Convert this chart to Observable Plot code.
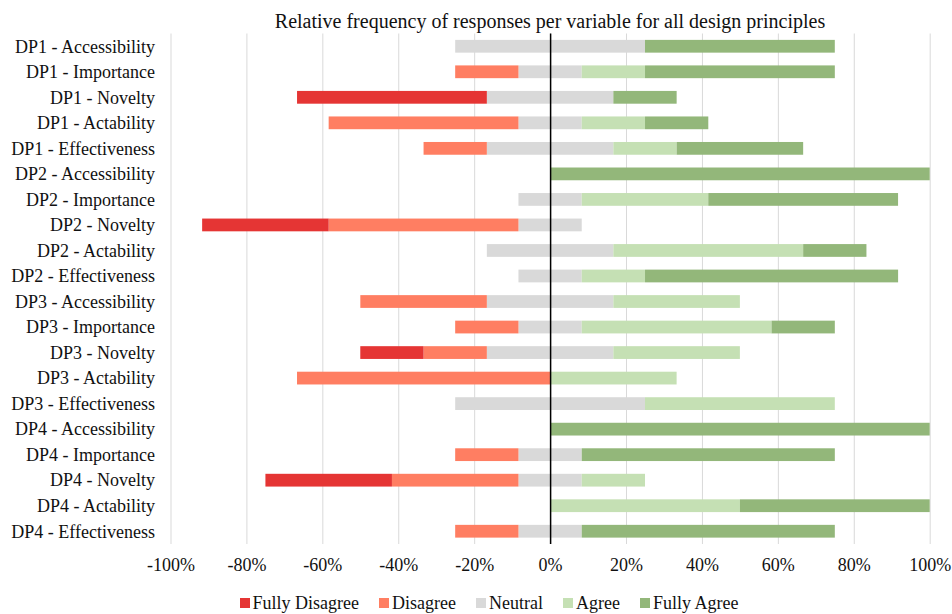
<!DOCTYPE html>
<html>
<head>
<meta charset="utf-8">
<script src="https://cdn.jsdelivr.net/npm/d3@7"></script>
<script src="https://cdn.jsdelivr.net/npm/@observablehq/plot@0.6"></script>
<style>
  html, body { margin: 0; padding: 0; background: #fff; }
  body { width: 952px; height: 614px; overflow: hidden; font-family: "Liberation Serif", "Times New Roman", serif; color: #111; }
  #title { height: 33px; box-sizing: border-box; padding-top: 10px; font-size: 20px; line-height: 22px; white-space: nowrap; position: relative; }
  #title span { position: absolute; left: 550px; transform: translateX(-50%); }
  #chart svg { display: block; }
  #legend { display: flex; justify-content: center; align-items: center; padding-left: 26px; margin-top: 10px; font-size: 18px; line-height: 20px; }
  .item { display: flex; align-items: center; margin: 0 10px; }
  .sw { width: 10px; height: 10px; margin-right: 3px; }
</style>
</head>
<body>
<div id="title"><span>Relative frequency of responses per variable for all design principles</span></div>
<div id="chart"></div>
<div id="legend"></div>
<script>
const categories = [
  "DP1 - Accessibility", "DP1 - Importance", "DP1 - Novelty", "DP1 - Actability", "DP1 - Effectiveness",
  "DP2 - Accessibility", "DP2 - Importance", "DP2 - Novelty", "DP2 - Actability", "DP2 - Effectiveness",
  "DP3 - Accessibility", "DP3 - Importance", "DP3 - Novelty", "DP3 - Actability", "DP3 - Effectiveness",
  "DP4 - Accessibility", "DP4 - Importance", "DP4 - Novelty", "DP4 - Actability", "DP4 - Effectiveness"
];
const responses = ["Fully Disagree", "Disagree", "Neutral", "Agree", "Fully Agree"];
const colors = ["#E53534", "#FF7E62", "#D9D9D9", "#C5E0B4", "#93B77A"];

// Percentages per category (order as in categories)
const fullyDisagree = [0, 0, 50, 0, 0,   0, 0, 33.33, 0, 0,   0, 0, 16.67, 0, 0,   0, 0, 33.33, 0, 0];
const disagree      = [0, 16.67, 0, 50, 16.67,   0, 0, 50, 0, 0,   33.33, 16.67, 16.67, 66.67, 0,   0, 16.67, 33.33, 0, 16.67];
const neutral       = [50, 16.67, 33.33, 16.67, 33.33,   0, 16.67, 16.67, 33.33, 16.67,   33.33, 16.67, 33.33, 0, 50,   0, 16.67, 16.67, 0, 16.67];
const agree         = [0, 16.67, 0, 16.67, 16.67,   0, 33.33, 0, 50, 16.67,   33.33, 50, 33.33, 33.33, 50,   0, 0, 16.67, 50, 0];
const fullyAgree    = [50, 50, 16.67, 16.67, 33.33,   100, 50, 0, 16.67, 66.67,   0, 16.67, 0, 0, 0,   100, 66.67, 0, 50, 66.67];

const xTicks = [-100, -80, -60, -40, -20, 0, 20, 40, 60, 80, 100];

// Build diverging segments: neutral split evenly around zero
const segments = [];
categories.forEach((cat, i) => {
  const n = neutral[i] / 2;
  let left = 0;
  [["Neutral", n], ["Disagree", disagree[i]], ["Fully Disagree", fullyDisagree[i]]].forEach(([r, v]) => {
    if (v > 0) segments.push({category: cat, response: r, x1: left - v, x2: left});
    left -= v;
  });
  let right = 0;
  [["Neutral", n], ["Agree", agree[i]], ["Fully Agree", fullyAgree[i]]].forEach(([r, v]) => {
    if (v > 0) segments.push({category: cat, response: r, x1: right, x2: right + v});
    right += v;
  });
});

const chart = Plot.plot({
  width: 952,
  height: 550,
  marginLeft: 170.5,
  marginRight: 22.3,
  marginTop: 0.5,
  marginBottom: 39,
  style: {fontFamily: "'Liberation Serif', 'Times New Roman', serif", fontSize: "18px", color: "#111", background: "transparent"},
  x: {domain: [-100, 100], ticks: xTicks, tickFormat: d => `${d}%`, label: null},
  y: {domain: categories, paddingInner: 0.5, paddingOuter: 0.25, round: false, label: null},
  color: {domain: responses, range: colors},
  marks: [
    Plot.gridX(xTicks, {stroke: "#D9D9D9", strokeOpacity: 1, strokeWidth: 1}),
    Plot.barX(segments, {y: "category", x1: "x1", x2: "x2", fill: "response", inset: 0}),
    Plot.ruleX([0], {stroke: "#000", strokeWidth: 1.5}),
    Plot.axisX({ticks: xTicks, tickFormat: d => `${d}%`, tickSize: 0, tickPadding: 14, label: null}),
    Plot.axisY({tickSize: 0, tickPadding: 16, label: null})
  ]
});
document.getElementById("chart").appendChild(chart);

const legend = document.getElementById("legend");
responses.forEach((r, i) => {
  const item = document.createElement("div");
  item.className = "item";
  const sw = document.createElement("div");
  sw.className = "sw";
  sw.style.background = colors[i];
  const t = document.createElement("span");
  t.textContent = r;
  item.appendChild(sw);
  item.appendChild(t);
  legend.appendChild(item);
});
</script>
</body>
</html>
